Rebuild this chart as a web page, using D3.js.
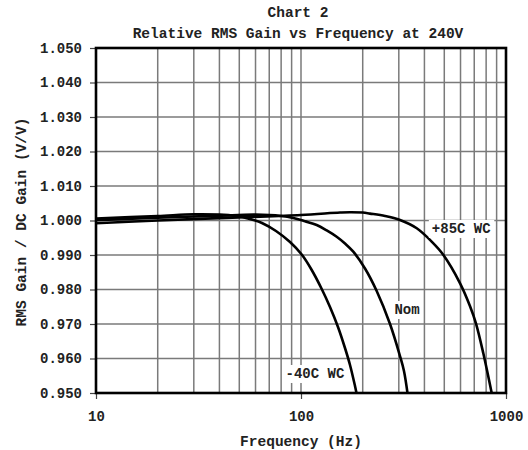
<!DOCTYPE html>
<html><head><meta charset="utf-8">
<script src="https://cdn.jsdelivr.net/npm/d3@7"></script>
<style>
body{margin:0;background:#fff;}
text{font-family:"Liberation Mono","Courier New",monospace;font-weight:bold;fill:#222;}
</style></head>
<body><svg id="c" width="528" height="450"></svg>
<script>
const titleMain = "Chart 2";
const titleSub = "Relative RMS Gain vs Frequency at 240V";
const xLabel = "Frequency (Hz)";
const yLabel = "RMS Gain / DC Gain (V/V)";
const xTickValues = [10, 100, 1000];
const xGridValues = [20,30,40,50,60,70,80,90,100,200,300,400,500,600,700,800,900];
const yTickValues = [0.95,0.96,0.97,0.98,0.99,1.00,1.01,1.02,1.03,1.04,1.05];

const freqM40 = [10, 20, 30, 40, 48, 55.1, 64.5, 75.5, 88.4, 100.8, 112.8, 126.2, 138.5, 151.5, 163.9, 173.4, 183.4, 186.5];
const gainM40 = [1.0006, 1.0013, 1.0018, 1.0017, 1.0013, 1.0006, 0.99928, 0.99696, 0.99377, 0.99014, 0.98565, 0.98014, 0.97493, 0.96913, 0.96304, 0.95812, 0.95203, 0.9500];

const freqNom = [10, 20, 40, 60, 80, 91.7, 104.6, 119.3, 133.5, 149.3, 163.9, 179.9, 205.2, 234.0, 271.8, 304.0, 317.9, 330.7];
const gainNom = [1.0001, 1.0008, 1.0014, 1.0017, 1.0013, 1.00072, 0.99977, 0.9987, 0.99713, 0.9953, 0.99333, 0.99096, 0.98609, 0.97957, 0.9700, 0.96072, 0.95638, 0.9500];

const freqP85 = [10, 20, 50, 100, 155, 173, 200, 217, 257, 304, 367, 434, 495, 597, 667, 714, 775, 851.5];
const gainP85 = [0.9992, 1.0000, 1.0009, 1.0016, 1.0023, 1.0024, 1.0023, 1.0020, 1.0013, 1.00014, 0.99774, 0.99386, 0.9900, 0.9818, 0.97522, 0.97014, 0.96151, 0.9500];

const seriesLabels = ["-40C WC", "Nom", "+85C WC"];
const labelFreq = [117, 329, 605];
const labelGain = [0.9558, 0.97435, 0.99783];

const svg = d3.select("#c");
const L = 96, R = 506, T = 48, B = 393;
const x = d3.scaleLog().domain([10, 1000]).range([L, R]);
const y = d3.scaleLinear().domain([0.95, 1.05]).range([B, T]);

svg.append("text").attr("x", 298).attr("y", 17).attr("text-anchor", "middle").style("font-size", "14.5px").text(titleMain);
svg.append("text").attr("x", 298).attr("y", 38).attr("text-anchor", "middle").style("font-size", "14.5px").text(titleSub);

const g = svg.append("g");
g.selectAll(".vg").data(xGridValues).enter().append("line")
  .attr("x1", d => x(d)).attr("x2", d => x(d)).attr("y1", T).attr("y2", B)
  .attr("stroke", "#7a7a7a").attr("stroke-width", 1.5);
g.selectAll(".hg").data(yTickValues.slice(1, -1)).enter().append("line")
  .attr("x1", L).attr("x2", R).attr("y1", d => y(d)).attr("y2", d => y(d))
  .attr("stroke", "#7a7a7a").attr("stroke-width", 1.5);

const yAxis = d3.axisLeft(y).tickValues(yTickValues).tickFormat(d3.format(".3f")).tickSize(6).tickPadding(8);
const ya = svg.append("g").attr("transform", `translate(${L},0)`).call(yAxis);
ya.select(".domain").remove();
ya.selectAll("line").attr("stroke", "#444").attr("stroke-width", 1.2);
ya.selectAll("text").style("font-size", "14px").style("font-family", "Liberation Mono").style("font-weight", "bold").attr("fill", "#222");

const xAxis = d3.axisBottom(x).tickValues(xTickValues).tickFormat(d3.format("d")).tickSize(6).tickPadding(12);
const xa = svg.append("g").attr("transform", `translate(0,${B})`).call(xAxis);
xa.select(".domain").remove();
xa.selectAll("line").attr("stroke", "#444").attr("stroke-width", 1.2);
xa.selectAll("text").style("font-size", "14px").style("font-family", "Liberation Mono").style("font-weight", "bold").attr("fill", "#222");

svg.append("text").attr("x", (L + R) / 2).attr("y", 446).attr("text-anchor", "middle").style("font-size", "14.5px").text(xLabel);
svg.append("text").attr("transform", "translate(26,222) rotate(-90)").attr("text-anchor", "middle").style("font-size", "14.5px").text(yLabel);

svg.append("clipPath").attr("id", "clip").append("rect").attr("x", L).attr("y", T).attr("width", R - L).attr("height", B - T);

const line = d3.line().x(d => x(d[0])).y(d => y(d[1])).curve(d3.curveCatmullRom.alpha(0.5));
const series = [[freqM40, gainM40], [freqNom, gainNom], [freqP85, gainP85]];
const cg = svg.append("g").attr("clip-path", "url(#clip)");
series.forEach(([f, v]) => {
  cg.append("path").datum(f.map((d, i) => [d, v[i]])).attr("d", line)
    .attr("fill", "none").attr("stroke", "#000").attr("stroke-width", 2.6);
});

seriesLabels.forEach((s, i) => {
  const t = svg.append("text").attr("x", x(labelFreq[i])).attr("y", y(labelGain[i]) + 5)
    .attr("text-anchor", "middle").style("font-size", "14px").text(s);
  const bb = t.node().getBBox();
  svg.insert("rect", () => t.node()).attr("x", bb.x - 3).attr("y", bb.y - 1).attr("width", bb.width + 6).attr("height", bb.height + 2).attr("fill", "#fff");
});

svg.append("rect").attr("x", L).attr("y", T).attr("width", R - L).attr("height", B - T)
  .attr("fill", "none").attr("stroke", "#000").attr("stroke-width", 2.6);
</script></body></html>
